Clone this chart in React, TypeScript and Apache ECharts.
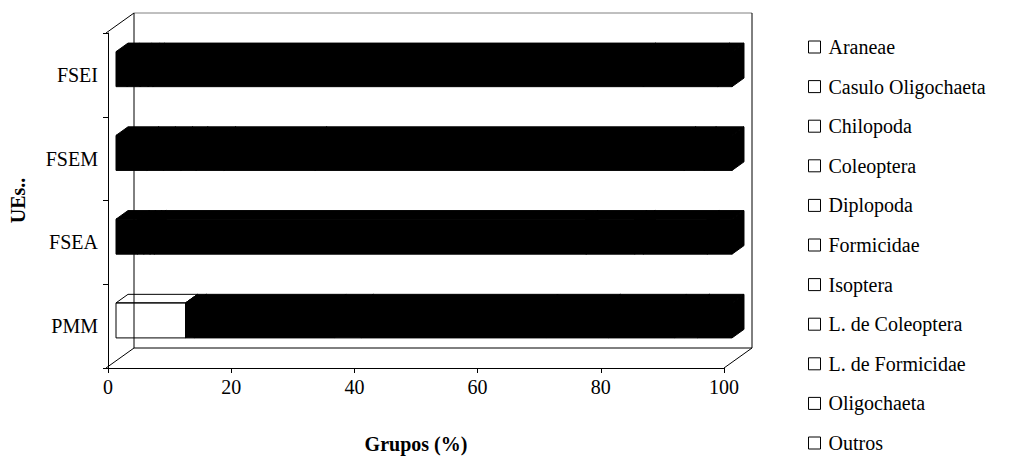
import React, { useEffect, useRef } from "react";
import * as echarts from "echarts";

const categories = ["PMM", "FSEA", "FSEM", "FSEI"];
const groupNames = [
  "Araneae",
  "Casulo Oligochaeta",
  "Chilopoda",
  "Coleoptera",
  "Diplopoda",
  "Formicidae",
  "Isoptera",
  "L. de Coleoptera",
  "L. de Formicidae",
  "Oligochaeta",
  "Outros",
];
// values per category: [PMM, FSEA, FSEM, FSEI] (%)
const araneae = [11.3, 0, 0, 0];
const casuloOligochaeta = [0, 3.5, 5.0, 1.8];
const chilopoda = [1.4, 1.0, 2.7, 2.1];
const coleoptera = [22.7, 1.0, 2.8, 1.3];
const diplopoda = [4.4, 0.7, 2.5, 0.8];
const formicidae = [30.0, 70.1, 4.5, 79.6];
const isoptera = [10.1, 7.9, 14.8, 12.1];
const lColeoptera = [10.8, 1.4, 59.9, 0];
const lFormicidae = [0, 0, 0, 0];
const oligochaeta = [3.7, 10.4, 3.3, 0];
const outros = [5.6, 4.0, 4.5, 2.3];
const xTicks = [0, 20, 40, 60, 80, 100];

const seriesValues = [
  araneae,
  casuloOligochaeta,
  chilopoda,
  coleoptera,
  diplopoda,
  formicidae,
  isoptera,
  lColeoptera,
  lFormicidae,
  oligochaeta,
  outros,
];

const FONT = "'Liberation Serif', 'Times New Roman', serif";
const GL = 106, GT = 33, GW = 618, GH = 335;
const DX = 28, DY = -20; // depth vector
const F0 = 0.286, F1 = 0.714, BAR = 0.418;

export default function App() {
  const ref = useRef<HTMLDivElement>(null);
  useEffect(() => {
    if (!ref.current) return;
    const chart = echarts.init(ref.current, undefined, { renderer: "svg" });
    const cum = categories.map(() => 0);
    const series = seriesValues.map((vals, si) => {
      const data = vals.map((v, ci) => {
        const s = cum[ci];
        cum[ci] += v;
        return [s, s + v, ci];
      });
      const fill = si === 0 ? "rgba(255,255,255,0)" : "#000";
      return {
        type: "custom",
        name: groupNames[si],
        coordinateSystem: "cartesian2d",
        encode: { x: [0, 1], y: 2 },
        data,
        renderItem: (params: any, api: any) => {
          const s = api.value(0), e = api.value(1), c = api.value(2);
          if (e - s <= 0) return null;
          const a = api.coord([s, c]);
          const b = api.coord([e, c]);
          const band = api.size([0, 1])[1];
          const h = band * BAR;
          const fx = DX * F0, fy = DY * F0;
          const bx = DX * (F1 - F0), by = DY * (F1 - F0);
          const x0 = a[0] + fx, x1 = b[0] + fx;
          const yc = a[1] + fy;
          const yt = yc - h / 2, yb = yc + h / 2;
          const style = { fill, stroke: "#000", lineWidth: 1 };
          return {
            type: "group",
            children: [
              { type: "polygon", shape: { points: [[x1, yt], [x1 + bx, yt + by], [x1 + bx, yb + by], [x1, yb]] }, style },
              { type: "polygon", shape: { points: [[x0, yt], [x1, yt], [x1 + bx, yt + by], [x0 + bx, yt + by]] }, style },
              { type: "rect", shape: { x: x0, y: yt, width: x1 - x0, height: h }, style },
            ],
          };
        },
      };
    });

    const R = GL + GW, B = GT + GH;
    const line = (x1: number, y1: number, x2: number, y2: number, color = "#000") => ({
      type: "line",
      silent: true,
      shape: { x1, y1, x2, y2 },
      style: { stroke: color, lineWidth: 1 },
    });

    chart.setOption({
      animation: false,
      backgroundColor: "#fff",
      grid: { left: GL, top: GT, width: GW, height: GH },
      xAxis: {
        type: "value",
        min: xTicks[0],
        max: xTicks[xTicks.length - 1],
        interval: 20,
        splitLine: { show: false },
        axisLine: { show: true, lineStyle: { color: "#000", width: 1 } },
        axisTick: { show: true, length: 5, lineStyle: { color: "#000" } },
        axisLabel: { color: "#000", fontFamily: FONT, fontSize: 20, margin: 9 },
        name: "Grupos (%)",
        nameLocation: "middle",
        nameGap: 66,
        nameTextStyle: { color: "#000", fontFamily: FONT, fontSize: 20, fontWeight: "bold" },
      },
      yAxis: {
        type: "category",
        data: categories,
        axisLine: { show: true, lineStyle: { color: "#000", width: 1 } },
        axisTick: { show: true, length: 5, lineStyle: { color: "#000" } },
        axisLabel: { color: "#000", fontFamily: FONT, fontSize: 20, margin: 10 },
        name: "UEs..",
        nameLocation: "middle",
        nameRotate: 90,
        nameGap: 80,
        nameTextStyle: { color: "#000", fontFamily: FONT, fontSize: 20, fontWeight: "bold" },
      },
      legend: {
        orient: "vertical",
        left: 803,
        top: 32,
        icon: "rect",
        itemWidth: 12,
        itemHeight: 12,
        itemGap: 19.6,
        selectedMode: false,
        textStyle: { color: "#000", fontFamily: FONT, fontSize: 20, lineHeight: 20, padding: [0, 0, 0, 3] },
        data: groupNames.map((n) => ({
          name: n,
          itemStyle: { color: "#fff", borderColor: "#000", borderWidth: 1 },
        })),
      },
      graphic: [
        line(GL + DX, GT + DY, R + DX, GT + DY, "#808080"),
        line(GL + DX, GT + DY, GL + DX, B + DY),
        line(R + DX, GT + DY, R + DX, B + DY),
        line(GL + DX, B + DY, R + DX, B + DY),
        line(GL, GT, GL + DX, GT + DY),
        line(GL, B, GL + DX, B + DY),
        line(R, B, R + DX, B + DY),
      ],
      series,
    });
    return () => chart.dispose();
  }, []);
  return (
    <div
      ref={ref}
      style={{ position: "fixed", left: 0, top: 0, width: 1021, height: 459, background: "#fff" }}
    />
  );
}
